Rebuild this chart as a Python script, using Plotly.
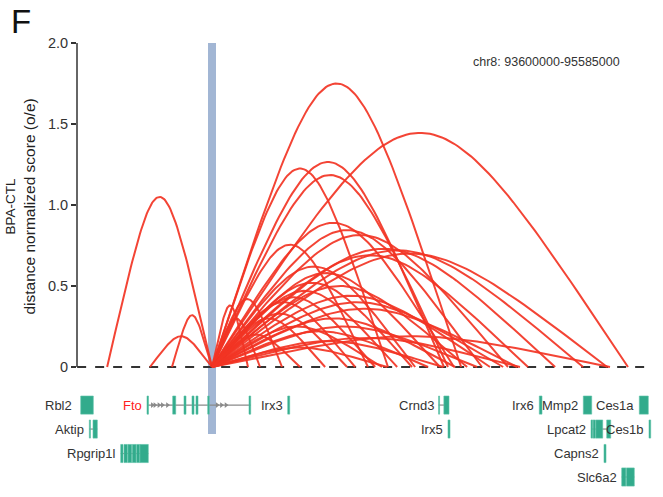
import numpy as np
import plotly.graph_objects as go

# ---------------- data ----------------
region_label = "chr8: 93600000-95585000"
anchor = 94.062  # Mb, viewpoint (Fto)

# arcs: other end (Mb) and height (o/e score)
arc_ends = [93.695, 93.845, 93.922,
            94.934, 95.518, 94.874, 94.678, 94.888, 94.909, 95.007, 95.098,
            94.608, 95.361, 95.445, 95.263, 95.168, 94.773, 94.860, 94.762,
            94.710, 94.955, 95.035, 95.081, 95.130, 94.633, 94.563, 94.535,
            94.458, 94.307, 94.188, 94.230, 94.657, 94.818, 94.990, 95.140,
            95.455, 94.871, 94.675, 94.913, 94.370]
arc_heights = [1.05, 0.19, 0.32,
               1.75, 1.445, 1.265, 1.225, 1.185, 0.89, 0.845, 0.815,
               0.755, 0.72, 0.70, 0.73, 0.69, 0.62, 0.58, 0.52,
               0.47, 0.50, 0.44, 0.40, 0.36, 0.43, 0.40, 0.33,
               0.30, 0.42, 0.38, 0.30, 0.25, 0.22, 0.25, 0.18,
               0.19, 0.16, 0.12, 0.30, 0.20]

# genes: name, row, label colour, exons [(start, end)], intron span
gene_names = ["Rbl2", "Fto", "Irx3", "Aktip", "Rpgrip1l", "Crnd3", "Irx5",
              "Irx6", "Mmp2", "Ces1a", "Lpcat2", "Ces1b", "Capns2", "Slc6a2"]
gene_rows = [1, 1, 1, 2, 3, 1, 2, 1, 1, 1, 2, 2, 3, 4]
gene_spans = [(93.6025, 93.6466), (93.8345, 94.1975), (94.327, 94.334),
              (93.6326, 93.6606), (93.7425, 93.8390), (94.855, 94.8915),
              (94.888, 94.895), (95.2076, 95.217), (95.3616, 95.391),
              (95.5576, 95.589), (95.3885, 95.4575), (95.5915, 95.5975),
              (95.434, 95.441), (95.496, 95.540)]
gene_exons = [
    [(93.6025, 93.6466)],
    [(93.8345, 93.8398), (93.9245, 93.935), (93.964, 93.971), (93.992, 93.999),
     (94.006, 94.013), (94.047, 94.0523), (94.1915, 94.1975)],
    [(94.327, 94.334)],
    [(93.6326, 93.6368), (93.6455, 93.6606)],
    [(93.7425, 93.7505), (93.754, 93.766), (93.768, 93.781), (93.783, 93.796),
     (93.798, 93.809), (93.810, 93.839)],
    [(94.855, 94.8585), (94.8735, 94.8915)],
    [(94.888, 94.895)],
    [(95.2076, 95.217)],
    [(95.3616, 95.391)],
    [(95.5576, 95.589)],
    [(95.3885, 95.3945), (95.396, 95.404), (95.4055, 95.4295), (95.4435, 95.4575)],
    [(95.5915, 95.5975)],
    [(95.434, 95.441)],
    [(95.496, 95.5105), (95.5125, 95.540)],
]
gene_label_colors = ["#333333", "#ff2020"] + ["#333333"] * 12
fto_arrow_pos = [93.8530, 93.8620, 93.8760, 93.8880, 93.9060,
                 94.0800, 94.0950, 94.1110]

row_y = {1: -0.235, 2: -0.383, 3: -0.534, 4: -0.679}
gene_half = 0.056

# ---------------- figure ----------------
arc_color = "rgba(242,52,36,0.92)"
teal = "#32ab8c"
font_family = "Liberation Sans, Arial, sans-serif"

fig = go.Figure()

# viewpoint bar
fig.add_shape(type="rect", x0=anchor - 0.014, x1=anchor + 0.014, y0=-0.414, y1=2.0,
              fillcolor="#a2b6d4", line=dict(width=0), layer="below")

# baseline
fig.add_shape(type="line", x0=93.59, x1=95.585, y0=0, y1=0,
              line=dict(color="#333333", width=2, dash="dash"), layer="below")

# arcs (cubic bezier with both control points above the midpoint)
xs, ys = [], []
t = np.linspace(0, 1, 80)
for end, h in zip(arc_ends, arc_heights):
    w = end - anchor
    xs.extend(list(anchor + w * (1.5 * t * (1 - t) + t ** 3)) + [None])
    ys.extend(list(h * 4 * t * (1 - t)) + [None])
fig.add_trace(go.Scatter(x=xs, y=ys, mode="lines",
                         line=dict(color=arc_color, width=2), hoverinfo="skip"))

# genes
for name, row, span, exons, col in zip(gene_names, gene_rows, gene_spans,
                                       gene_exons, gene_label_colors):
    yc = row_y[row]
    if len(exons) > 1:
        fig.add_shape(type="line", x0=span[0], x1=span[1], y0=yc, y1=yc,
                      line=dict(color="#8a8a8a", width=1.2))
    for a, b in exons:
        fig.add_shape(type="rect", x0=a, x1=b, y0=yc - gene_half, y1=yc + gene_half,
                      fillcolor=teal, line=dict(color="#5cc2a8", width=0.6))
    fig.add_annotation(x=span[0], y=yc, text=name, showarrow=False,
                       xanchor="right", xshift=-3 if name != "Rbl2" else -7,
                       font=dict(size=13, color=col, family=font_family))

fig.add_trace(go.Scatter(x=fto_arrow_pos, y=[row_y[1]] * len(fto_arrow_pos),
                         mode="markers", hoverinfo="skip",
                         marker=dict(symbol="triangle-right", size=5, color="#8a8a8a")))

# y axis line
fig.add_shape(type="line", xref="paper", x0=0, x1=0, y0=0, y1=2.0,
              line=dict(color="#333333", width=1.5))

fig.add_annotation(xref="paper", yref="y", x=-0.097, y=0.99,
                   text="<span style='font-size:13.5px'>BPA-CTL</span><br>"
                        "<span style='font-size:15.5px'>distance normalized score (o/e)</span>",
                   textangle=-90, showarrow=False, xanchor="center", yanchor="middle",
                   font=dict(size=15, color="#222222", family=font_family))
fig.add_annotation(xref="paper", yref="paper", x=-0.117, y=1.041, text="F",
                   showarrow=False, xanchor="left", yanchor="middle",
                   font=dict(size=33, color="#111111", family=font_family))
fig.add_annotation(xref="paper", yref="paper", x=0.943, y=0.9513, text=region_label,
                   showarrow=False, xanchor="right", yanchor="middle",
                   font=dict(size=12.5, color="#333333", family=font_family))

fig.update_layout(
    width=663, height=497,
    margin=dict(l=77, r=8, t=40, b=5),
    plot_bgcolor="white", paper_bgcolor="white",
    showlegend=False,
    xaxis=dict(range=[93.5895, 95.6125], visible=False),
    yaxis=dict(range=[-0.7716, 2.0185], tickvals=[0, 0.5, 1.0, 1.5, 2.0],
               ticktext=["0", "0.5", "1.0", "1.5", "2.0"], ticks="outside",
               ticklen=5, tickwidth=1.5, tickcolor="#333333",
               showline=False, showgrid=False, zeroline=False,
               tickfont=dict(size=14.5, color="#333333", family=font_family)),
)

fig.write_html("out.html")
